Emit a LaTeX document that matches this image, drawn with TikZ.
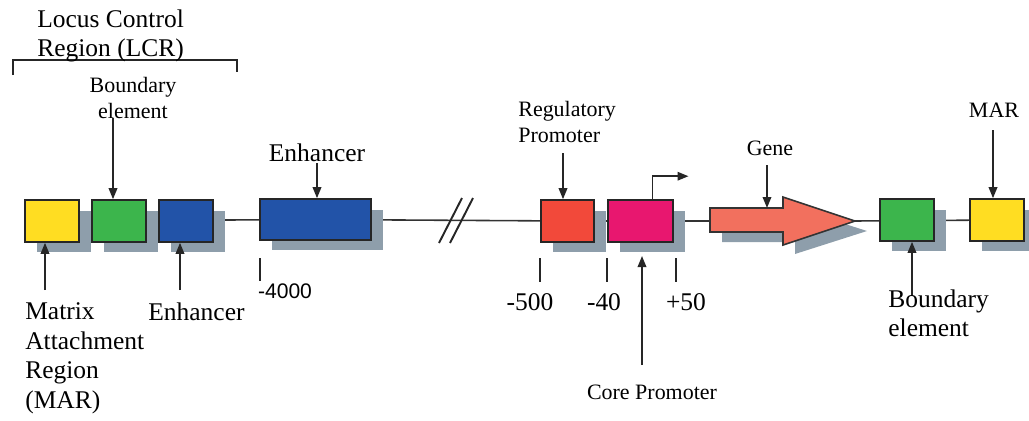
\documentclass[tikz,border=0pt]{standalone}
\usepackage{fontspec}
\setmainfont{Liberation Serif}
\newfontfamily\serifface{Liberation Serif}
\newfontfamily\numfont{Liberation Sans}
\usetikzlibrary{arrows.meta,shadows,calc}
\definecolor{shadowc}{HTML}{8E9EAB}
\definecolor{ylw}{HTML}{FFDD22}
\definecolor{grn}{HTML}{3CB54C}
\definecolor{blu}{HTML}{2253A8}
\definecolor{rpc}{HTML}{F2493A}
\definecolor{pkc}{HTML}{E8176F}
\definecolor{genec}{HTML}{F2705E}
\definecolor{linec}{HTML}{333333}
\pgfdeclarelayer{bg}
\pgfsetlayers{bg,main}
\begin{document}
\begin{tikzpicture}[x=0.02cm,y=-0.02cm,
  box/.style={draw=black!85, line width=0.9pt, minimum width=1.08cm, minimum height=0.84cm, inner sep=0pt,
    drop shadow={shadow xshift=0.24cm, shadow yshift=-0.21cm, fill=shadowc, opacity=1}},
  arr/.style={draw=black!85, line width=1pt, -{Triangle[length=0.22cm,width=0.17cm]}},
  tick/.style={draw=black!85, line width=1.1pt},
  big/.style={font=\serifface\fontsize{14.5}{17}\selectfont, inner sep=0pt},
  small/.style={font=\serifface\fontsize{12.5}{15}\selectfont, inner sep=0pt},
  num/.style={font=\serifface\fontsize{14.5}{17}\selectfont, inner sep=0pt},
]
\useasboundingbox (0,0) rectangle (1029,420);

% boxes
\node[box, fill=ylw] (yl1) at (52,221) {};
\node[box, fill=grn] (gr1) at (119,221) {};
\node[box, fill=blu] (bl1) at (186,221) {};
\node[box, fill=blu, minimum width=2.22cm, minimum height=0.82cm] (enh) at (315.5,219.5) {};
\node[box, fill=rpc, minimum width=1.06cm] (rp) at (567.5,221) {};
\node[box, fill=pkc, minimum width=1.3cm] (pk) at (640.5,221) {};
\node[box, fill=grn] (gr2) at (907,220) {};
\node[box, fill=ylw] (yl2) at (997,220) {};

% gene arrow
\fill[shadowc] (722,218) -- (795,218) -- (795,208) -- (867,231) -- (795,254) -- (795,242) -- (722,242) -- cycle;
\draw[fill=genec, draw=black!80, line width=0.9pt] (710,208) -- (783,208) -- (783,197) -- (855,221) -- (783,245) -- (783,232) -- (710,232) -- cycle;
\coordinate (genetop) at (767,208);
\coordinate (genel) at (710,221);
\coordinate (genet) at (855,221);

% backbone line
\begin{pgfonlayer}{bg}
\draw[linec, line width=0.9pt] (yl1.center) -- (enh.center) -- (rp.center) -- (pk.center) -- (genel);
\draw[linec, line width=0.9pt] (genet) -- (yl2.center);
\end{pgfonlayer}

% break marks
\draw[tick] (439,243) -- (462,198);
\draw[tick] (450,243) -- (473,198);

% bent arrow (transcription start)
\draw[arr] ($(pk.north)+(12,0)$) -- ++(0,-23) -- ++(36,0);

% LCR bracket
\coordinate (lcrl) at (13,60);
\coordinate (lcrr) at (237,60);
\draw[tick, line width=1pt] ($(lcrl)+(0,15)$) -- (lcrl) -- (lcrr) -- ($(lcrr)+(0,12)$);
\node[big, anchor=north west, align=left] (lcr) at (37,9) {Locus Control\\Region (LCR)};

% top labels and arrows
\node[small, align=center] (bnd1) at (133,98) {Boundary\\element};
\coordinate (a1) at (113,118);
\draw[arr] (a1) -- (a1 |- gr1.north);

\node[big] (enhl) at (317,153) {Enhancer};
\coordinate (a2) at (317,163);
\draw[arr] (a2) -- (a2 |- enh.north);

\node[small, anchor=north west, align=left] (regl) at (518,101) {Regulatory\\Promoter};
\coordinate (a3) at (563,153);
\draw[arr] (a3) -- (a3 |- rp.north);

\node[small] (genel2) at (770,148) {Gene};
\coordinate (a4) at (767,165);
\draw[arr] (a4) -- (genetop);

\node[small] (marl) at (994,110) {MAR};
\coordinate (a5) at (993,130);
\draw[arr] (a5) -- (a5 |- yl2.north);

% bottom arrows and labels
\coordinate (b1) at (45,290);
\draw[arr] (b1) -- (b1 |- yl1.south);
\coordinate (b2) at (180,290);
\draw[arr] (b2) -- (b2 |- bl1.south);
\node[big, anchor=north west, align=left] (marb) at (25,302) {Matrix\\Attachment\\Region\\(MAR)};
\node[big, anchor=north west] (enhb) at (148,302) {Enhancer};

\coordinate (b3) at (642,365);
\draw[arr] (b3) -- (642,256);
\node[small] (corel) at (652,392) {Core Promoter};

\coordinate (b4) at (912,296);
\draw[arr] (b4) -- (b4 |- gr2.south);
\node[big, anchor=north west, align=left] (bnd2) at (888,289) {Boundary\\element};

% position ticks
\draw[tick] (260,258) -- (260,281);
\draw[tick] (540,258) -- (540,282);
\draw[tick] (607,258) -- (607,282);
\draw[tick] (676,258) -- (676,282);
\node[font=\numfont\fontsize{12}{14}\selectfont, inner sep=0pt] (n4000) at (285,291) {-4000};
\node[num] (n500) at (530,302) {-500};
\node[num] (n40) at (604,302) {-40};
\node[num] (n50) at (686,302) {+50};
\end{tikzpicture}
\end{document}
